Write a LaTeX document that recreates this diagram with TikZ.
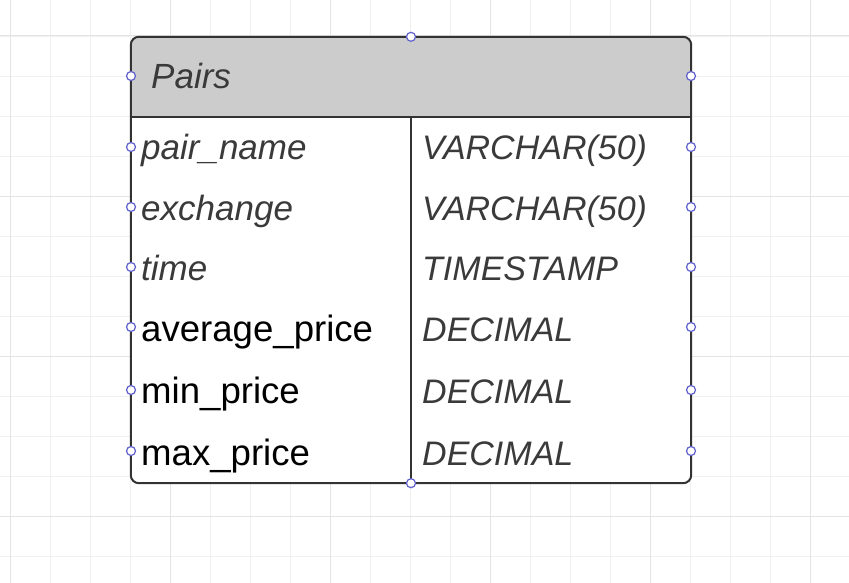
\documentclass[tikz,border=0pt]{standalone}
\usepackage{fontspec}
\setmainfont{Liberation Sans}
\begin{document}
\begin{tikzpicture}[x=1pt,y=-1pt,
  minorgrid/.style={draw=gridminor, line width=0.9pt},
  majorgrid/.style={draw=gridmajor, line width=1pt},
  tblline/.style={draw=tblcol, line width=2pt},
  port/.style={circle, draw=portcol, fill=white, line width=1.2pt, inner sep=0pt, minimum size=9pt},
  fieldit/.style={anchor=base west, inner sep=0pt, text=txtgray, font=\fontsize{35}{40}\selectfont\itshape},
  typeit/.style={anchor=base west, inner sep=0pt, text=txtgray, font=\fontsize{34}{40}\selectfont\itshape},
  fieldrm/.style={anchor=base west, inner sep=0pt, text=black, font=\fontsize{36.6}{40}\selectfont},
]
\definecolor{gridminor}{HTML}{F0F0F0}
\definecolor{gridmajor}{HTML}{E4E4E4}
\definecolor{tblcol}{HTML}{333333}
\definecolor{portcol}{HTML}{6060CC}
\definecolor{txtgray}{HTML}{3A3A3A}
\definecolor{headfill}{HTML}{CCCCCC}
\useasboundingbox[fill=white] (0,0) rectangle (849,583);
% grid
\foreach \x in {10,50,...,850} \draw[minorgrid] (\x,0) -- (\x,583);
\foreach \y in {36,76,...,583} \draw[minorgrid] (0,\y) -- (849,\y);
\foreach \x in {10,170,...,850} \draw[majorgrid] (\x,0) -- (\x,583);
\foreach \y in {36,196,...,583} \draw[majorgrid] (0,\y) -- (849,\y);
% table
\node[minimum width=560pt, minimum height=446pt, inner sep=0pt] (tbl) at (411,260) {};
\fill[white, rounded corners=8pt] (tbl.north west) rectangle (tbl.south east);
\fill[headfill] (131,117) [rounded corners=8pt] -- (tbl.north west) -- (tbl.north east) [sharp corners] -- (691,117) -- cycle;
\coordinate (hl) at (131,117);
\coordinate (hr) at (691,117);
\coordinate (divtop) at (411,117);
\draw[tblline] (hl) -- (hr);
\draw[tblline] (divtop) -- (tbl.south);
\draw[tblline, rounded corners=8pt] (tbl.north west) rectangle (tbl.south east);
% texts
\node[fieldit] (title) at (151,89) {Pairs};
\node[fieldit] (f1) at (141,160) {pair\_name};
\node[fieldit] (f2) at (141,220) {exchange};
\node[fieldit] (f3) at (141,280) {time};
\node[fieldrm] (f4) at (141,341) {average\_price};
\node[fieldrm] (f5) at (141,403) {min\_price};
\node[fieldrm] (f6) at (141,465) {max\_price};
\node[typeit] (t1) at (422,160) {VARCHAR(50)};
\node[typeit] (t2) at (422,220) {VARCHAR(50)};
\node[typeit] (t3) at (422,280) {TIMESTAMP};
\node[typeit] (t4) at (422,341) {DECIMAL};
\node[typeit] (t5) at (422,403) {DECIMAL};
\node[typeit] (t6) at (422,465) {DECIMAL};
% ports
\node[port] (pt) at (tbl.north) {};
\node[port] (pb) at (tbl.south) {};
\foreach \y [count=\i] in {76,147,207,267,327,390,451} {
  \node[port] (pl\i) at (131,\y) {};
  \node[port] (pr\i) at (691,\y) {};
}
\end{tikzpicture}
\end{document}
